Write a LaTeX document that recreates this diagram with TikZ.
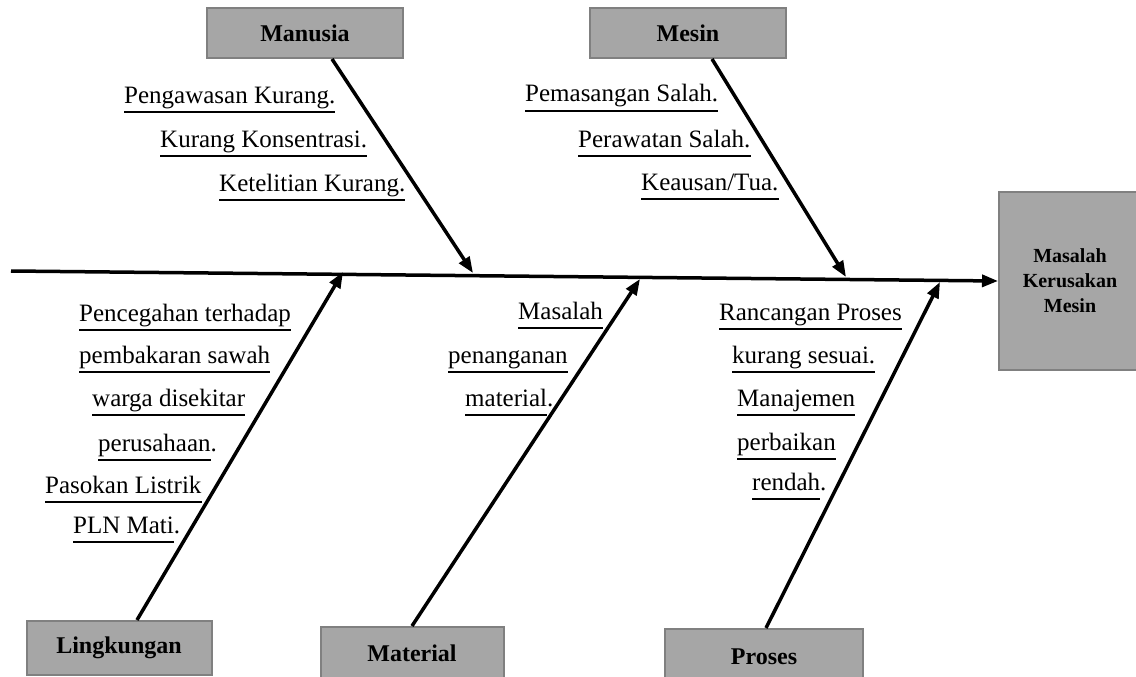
\documentclass[tikz,border=0pt]{standalone}
\usepackage{fontspec}
\setmainfont{Liberation Serif}
\usetikzlibrary{arrows.meta}
\definecolor{boxfill}{HTML}{A6A6A6}
\definecolor{boxline}{HTML}{808080}
\begin{document}
\begin{tikzpicture}[x=1pt, y=-1pt,
  cat/.style={draw=boxline, line width=2pt, fill=boxfill, inner sep=0pt,
    font=\fontsize{24}{28}\selectfont\bfseries, minimum width=196pt, minimum height=50pt},
  cause/.style={font=\fontsize{25}{29}\selectfont, inner sep=0pt, anchor=base west},
  uline/.style={line width=2pt},
  bone/.style={line width=3.5pt, -{Triangle[length=16pt,width=12pt]}}]
\useasboundingbox (0,0) rectangle (1136,677);

\node[cat, align=center, font=\fontsize{20}{25}\selectfont\bfseries,
  minimum width=142pt, minimum height=178pt] (effect) at (1070,281) {Masalah\\Kerusakan\\Mesin};
\node[cat] (manusia) at (305,33) {Manusia};
\node[cat] (mesin) at (688,33) {Mesin};
\node[cat, minimum width=185pt, minimum height=54pt] (lingkungan) at (119,648) {Lingkungan};
\node[cat, minimum width=183pt, minimum height=52pt] (material) at (412,653) {Material};
\node[cat, minimum width=198pt, minimum height=56pt] (proses) at (764,657) {Proses};

\coordinate (tail) at (11,271);
\coordinate (jm) at (473,273);
\coordinate (js) at (846,277);
\coordinate (jl) at (343,272);
\coordinate (jt) at (640,279);
\coordinate (jp) at (940,282);

\draw[bone] (tail) -- (effect.west);
\draw[bone] ([xshift=27pt]manusia.south) -- (jm);
\draw[bone] ([xshift=24pt]mesin.south) -- (js);
\draw[bone] ([xshift=18pt]lingkungan.north) -- (jl);
\draw[bone] (material.north) -- (jt);
\draw[bone] ([xshift=2pt]proses.north) -- (jp);

\foreach \n/\x/\y/\t in {
  m1/124/103/Pengawasan Kurang.,
  m2/160/147/Kurang Konsentrasi.,
  m3/219/191/Ketelitian Kurang.,
  s1/525/102/Pemasangan Salah.,
  s2/578/147/Perawatan Salah.,
  s3/641/190/{Keausan/Tua.},
  l1/79/321/Pencegahan terhadap,
  l2/79/363/pembakaran sawah,
  l3/92/406/warga disekitar,
  l4/98/451/perusahaan\rlap{.},
  l5/45/493/Pasokan Listrik,
  l6/73/533/PLN Mati\rlap{.},
  t1/518/319/Masalah,
  t2/448/363/penanganan,
  t3/465/406/material\rlap{.},
  p1/719/320/Rancangan Proses,
  p2/732/363/kurang sesuai.,
  p3/737/406/Manajemen,
  p4/737/450/perbaikan,
  p5/752/490/rendah\rlap{.}}
{
  \node[cause] (\n) at (\x,\y) {\t};
  \draw[uline] ([yshift=-8.5pt]\n.base west) -- ([yshift=-8.5pt]\n.base east);
}
\end{tikzpicture}
\end{document}
